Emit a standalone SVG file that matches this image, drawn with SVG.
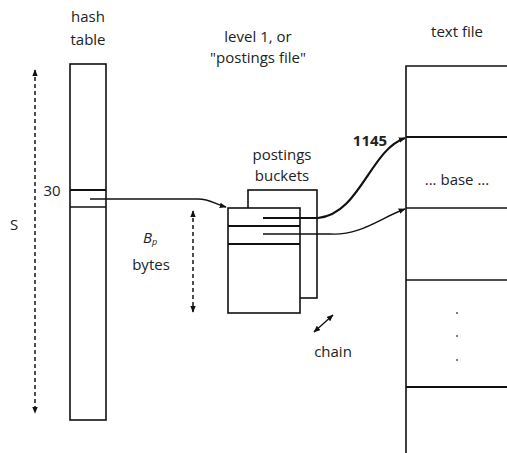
<svg xmlns="http://www.w3.org/2000/svg" width="507" height="453" viewBox="0 0 507 453">
<defs>
<style>
text{font-family:"Open Sans","Noto Sans",sans-serif;font-size:15px;fill:#222;text-anchor:middle}
.box{fill:#fff;stroke:#111;stroke-width:1.6}
.open{fill:none;stroke:#111;stroke-width:1.6}
.ln{stroke:#111;stroke-width:1.4;fill:none}
.thk{stroke:#111;stroke-width:2.2;fill:none}
.dash{stroke:#222;stroke-width:1.6;stroke-dasharray:4 3;fill:none}
</style>
<marker id="ah" viewBox="0 0 10 10" refX="9" refY="5" markerWidth="7" markerHeight="7" orient="auto-start-reverse" markerUnits="userSpaceOnUse">
<path d="M0,1 L10,5 L0,9 z" fill="#111"/>
</marker>
</defs>
<g id="hash-table">
<rect class="box" x="70" y="64" width="36" height="356"/>
<line class="thk" x1="70" y1="190" x2="106" y2="190"/>
<line class="ln" x1="70" y1="207" x2="106" y2="207"/>
</g>
<g id="postings-buckets">
<rect class="box" x="248" y="190" width="69" height="108"/>
<rect class="box" x="228" y="208" width="72" height="105"/>
<line class="thk" x1="228" y1="226" x2="300" y2="226"/>
<line class="thk" x1="228" y1="244" x2="300" y2="244"/>
</g>
<g id="text-file">
<path class="open" d="M520,66 H406 V460"/>
<line class="thk" x1="406" y1="137" x2="507" y2="137"/>
<line class="ln" x1="406" y1="208" x2="507" y2="208"/>
<line class="ln" x1="406" y1="280" x2="507" y2="280"/>
<line class="thk" x1="406" y1="387" x2="507" y2="387"/>
<circle cx="457" cy="313" r="1" fill="#555"/>
<circle cx="457" cy="336" r="1" fill="#555"/>
<circle cx="457" cy="360" r="1" fill="#555"/>
</g>
<g id="connectors">
<line class="dash" x1="35" y1="70" x2="35" y2="413" marker-start="url(#ah)" marker-end="url(#ah)"/>
<line class="dash" x1="193" y1="211" x2="193" y2="312" marker-start="url(#ah)" marker-end="url(#ah)"/>
<path class="ln" d="M90,199 H198 C210,199 215,204 226,207" marker-end="url(#ah)"/>
<path class="thk" d="M263,218 H318 C360,214 370,150 405,138" marker-end="url(#ah)"/>
<path class="ln" d="M263,234 H330 C360,236 380,218 405,209" marker-end="url(#ah)"/>
<line class="ln" x1="314" y1="332" x2="333" y2="315" marker-start="url(#ah)" marker-end="url(#ah)"/>
</g>
<g id="labels">
<text x="88" y="22">hash</text>
<text x="88" y="45">table</text>
<text x="258" y="42">level 1, or</text>
<text x="258" y="63">"postings file"</text>
<text x="457" y="37">text file</text>
<text x="14" y="230">S</text>
<text x="52" y="196">30</text>
<text x="282" y="160">postings</text>
<text x="282" y="181">buckets</text>
<text x="150" y="243" style="font-style:italic">B<tspan font-size="9" dy="2">p</tspan></text>
<text x="151" y="270">bytes</text>
<text x="370" y="146" style="font-weight:bold">1145</text>
<text x="457" y="185">... base ...</text>
<text x="333" y="357">chain</text>
</g>
</svg>
